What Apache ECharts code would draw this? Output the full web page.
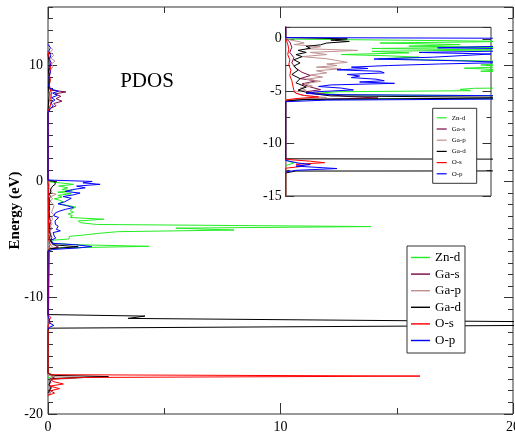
<!DOCTYPE html>
<html>
<head>
<meta charset="utf-8">
<script src="https://cdn.jsdelivr.net/npm/echarts@6/dist/echarts.min.js"></script>
<style>
html, body { margin: 0; padding: 0; background: #fff; }
#chart { width: 515px; height: 436px; }
</style>
</head>
<body>
<div id="chart"></div>
<script>
var names = ['Zn-d', 'Ga-s', 'Ga-p', 'Ga-d', 'O-s', 'O-p'];
var colors = ['#22ee22', '#7a0a45', '#c09090', '#000000', '#ff0000', '#0000ff'];

// each point: [energy (eV), PDOS]
var znD = [
    [-0.02, 0], [-0.13, 0.56], [-0.25, 1.1], [-0.4, 0.46], [-0.55, 0.85], [-0.7, 0.6], [-0.8, 1.05],
    [-0.92, 0.42], [-1.06, 1.0], [-1.2, 0.42], [-1.34, 0.6], [-1.5, 0.27], [-1.62, 0.5], [-1.75, 0.65],
    [-1.9, 0.45], [-2.05, 0.8], [-2.2, 1.2], [-2.35, 1.05], [-2.5, 0.95], [-2.65, 1.1], [-2.8, 0.87],
    [-2.95, 1.05], [-3.1, 0.95], [-3.25, 2.4], [-3.4, 1.3], [-3.55, 1.4], [-3.7, 2.1], [-3.88, 13.9],
    [-4.02, 5.5], [-4.18, 8.0], [-4.32, 3.0], [-4.48, 2.1], [-4.62, 1.5], [-4.72, 0.92], [-4.82, 0.85],
    [-4.95, 0.9], [-5.05, 0.25], [-5.2, 0.15], [-5.35, 0.3], [-5.45, 1.4], [-5.58, 4.35], [-5.72, 0.5],
    [-5.85, 0],
    [-11.6, 0], [-11.85, 0.04], [-12.1, 0],
    [-16.55, 0], [-16.72, 0.25], [-16.9, 0]
];
var gaS = [
    [8.1, 0], [7.85, 0.12], [7.7, 0.77], [7.52, 0.3], [7.32, 0.55], [7.12, 0.35], [6.9, 0.6],
    [6.7, 0.25], [6.5, 0.35], [6.3, 0.1], [6.1, 0.06], [5.9, 0],
    [0.05, 0], [-0.3, 0.02], [-0.8, 0.03], [-1.3, 0.02], [-1.8, 0.04], [-2.3, 0.03], [-2.8, 0.05],
    [-3.2, 0.08], [-3.5, 0.12], [-3.8, 0.07], [-4.0, 0.15], [-4.3, 0.08], [-4.6, 0.12], [-4.85, 0.17],
    [-5.05, 0.1], [-5.3, 0.2], [-5.5, 0.3], [-5.65, 0.45], [-5.8, 0.05], [-5.95, 0],
    [-16.6, 0], [-16.8, 0.3], [-17.0, 0.05], [-17.3, 0.12], [-17.5, 0.03], [-17.75, 0.15],
    [-18.0, 0.05], [-18.2, 0.1], [-18.4, 0]
];
var gaP = [
    [11.9, 0], [11.6, 0.06], [11.35, 0.2], [11.1, 0.1], [10.85, 0.25], [10.6, 0.12], [10.35, 0.3],
    [10.1, 0.15], [9.85, 0.22], [9.6, 0.08], [9.3, 0.12], [9.0, 0.05], [8.6, 0.1], [8.2, 0.04],
    [7.9, 0.12], [7.6, 0.08], [7.3, 0.14], [7.0, 0.06], [6.6, 0.1], [6.2, 0.03], [5.8, 0],
    [0.05, 0], [-0.1, 0.02], [-0.25, 0.06], [-0.4, 0.09], [-0.55, 0.04], [-0.75, 0.17], [-0.95, 0.1],
    [-1.1, 0.35], [-1.3, 0.12], [-1.5, 0.2], [-1.7, 0.08], [-1.9, 0.2], [-2.1, 0.26], [-2.25, 0.3],
    [-2.4, 0.2], [-2.55, 0.25], [-2.7, 0.15], [-2.85, 0.27], [-3.05, 0.15], [-3.25, 0.2], [-3.45, 0.12],
    [-3.65, 0.18], [-3.85, 0.1], [-4.05, 0.17], [-4.3, 0.09], [-4.5, 0.13], [-4.7, 0.07], [-4.9, 0.1],
    [-5.1, 0.04], [-5.4, 0.08], [-5.6, 0.2], [-5.8, 0],
    [-16.6, 0], [-16.78, 0.2], [-16.88, 1.5], [-17.05, 0.1], [-17.4, 0.05], [-17.9, 0.08], [-18.3, 0]
];
var gaD = [
    [11, 0], [10.5, 0.03], [10, 0.05], [9.5, 0.02], [9, 0.04], [8, 0.02], [7.5, 0.05], [7, 0.03], [6, 0],
    [0.12, 0], [0.0, 0.3], [-0.12, 0.22], [-0.25, 0.31], [-0.4, 0.2], [-0.57, 0.17], [-0.72, 0.1],
    [-0.9, 0.12], [-1.1, 0.06], [-1.3, 0.1], [-1.5, 0.05], [-1.7, 0.08], [-2.0, 0.04], [-2.3, 0.07],
    [-2.6, 0.04], [-3.0, 0.06], [-3.4, 0.03], [-3.8, 0.07], [-4.2, 0.05], [-4.6, 0.1], [-4.9, 0.06],
    [-5.2, 0.12], [-5.45, 0.22], [-5.62, 1.3], [-5.78, 0.1], [-5.95, 0],
    [-11.45, 0], [-11.58, 4.17], [-11.78, 3.44], [-12.25, 32], [-12.62, 0.05], [-12.8, 0],
    [-16.5, 0], [-16.68, 0.3], [-16.78, 2.6], [-16.95, 0.2], [-17.2, 0.1], [-17.45, 0.05],
    [-17.7, 0.12], [-18.0, 0.06], [-18.2, 0]
];
var oS = [
    [11.2, 0], [10.8, 0.04], [10.4, 0.08], [10.0, 0.1], [9.6, 0.12], [9.2, 0.05], [8.8, 0.1],
    [8.4, 0.06], [8.0, 0.08], [7.6, 0.15], [7.2, 0.12], [6.8, 0.14], [6.4, 0.08], [6.0, 0],
    [0.0, 0], [-0.5, 0.01], [-1.0, 0.015], [-1.5, 0.01], [-2.0, 0.02], [-2.5, 0.015], [-3.0, 0.025],
    [-3.5, 0.02], [-4.0, 0.03], [-4.5, 0.035], [-4.9, 0.04], [-5.2, 0.05], [-5.4, 0.09], [-5.55, 0.16],
    [-5.7, 0.05], [-5.85, 0],
    [-11.5, 0], [-11.68, 0.12], [-11.82, 0.19], [-11.97, 0.05], [-12.15, 0.09], [-12.35, 0],
    [-16.45, 0], [-16.62, 0.1], [-16.74, 16], [-16.86, 1.4], [-17.0, 0.15], [-17.2, 0.2],
    [-17.42, 0.66], [-17.6, 0.08], [-17.82, 0.5], [-18.0, 0.1], [-18.2, 0.28], [-18.4, 0]
];
var oP = [
    [11.8, 0], [11.5, 0.1], [11.2, 0.04], [10.8, 0.12], [10.5, 0.06], [10.2, 0.14], [9.8, 0.05],
    [9.4, 0.1], [9.0, 0.04], [8.6, 0.07], [8.2, 0.03], [7.95, 0.12], [7.75, 0.45], [7.6, 0.2],
    [7.4, 0.4], [7.2, 0.15], [7.0, 0.3], [6.75, 0.12], [6.5, 0.22], [6.2, 0.08], [5.9, 0],
    [0.12, 0], [0.0, 1.9], [-0.12, 1.5], [-0.25, 2.24], [-0.4, 1.23], [-0.55, 1.6], [-0.7, 1.05],
    [-0.86, 0.74], [-1.0, 1.38], [-1.15, 1.1], [-1.3, 0.65], [-1.45, 1.0], [-1.6, 0.86], [-1.75, 0.72],
    [-1.93, 0.43], [-2.08, 0.8], [-2.25, 1.1], [-2.4, 0.75], [-2.55, 0.5], [-2.7, 0.32], [-2.83, 0.4],
    [-2.96, 0.25], [-3.1, 0.46], [-3.25, 0.48], [-3.4, 0.3], [-3.55, 0.36], [-3.7, 0.32], [-3.85, 0.44],
    [-4.0, 0.48], [-4.12, 0.36], [-4.25, 0.53], [-4.4, 0.22], [-4.55, 0.16], [-4.7, 0.27], [-4.88, 0.33],
    [-5.05, 0.15], [-5.2, 0.1], [-5.32, 0.18], [-5.45, 1.2], [-5.6, 1.88], [-5.72, 1.3], [-5.85, 0.2],
    [-6.0, 0],
    [-11.6, 0], [-11.85, 0.06], [-12.0, 0.12], [-12.15, 0.05], [-12.38, 0.25], [-12.55, 0.05], [-12.7, 0]
];
var pdos = [znD, gaS, gaP, gaD, oS, oP];

var serif = '"Liberation Serif", "Times New Roman", serif';
var frame = '#333';

function toXY(arr) {
    return arr.map(function (p) { return [p[1], p[0]]; });
}

function legendItems() {
    return names.map(function (n, i) {
        return {name: n, itemStyle: {color: colors[i], borderWidth: 0, opacity: 1}};
    });
}

// y axis helper: labelled ticks or plain small ticks
function yAx(grid, pos, min, max, interval, len, labels, margin) {
    return {
        type: 'value', gridIndex: grid, position: pos, min: min, max: max, interval: interval,
        axisLine: {show: false, onZero: false},
        axisTick: {show: true, inside: true, length: len, lineStyle: {color: frame}},
        axisLabel: {show: labels, showMaxLabel: false, margin: margin, color: '#000',
            fontFamily: serif, fontSize: 14},
        splitLine: {show: false}
    };
}

var yAxes = [
    yAx(0, 'left', -20, 15, 10, 9, true, 5),
    yAx(0, 'left', -20, 15, 1, 5, false, 5),
    yAx(0, 'right', -20, 15, 10, 9, false, 5),
    yAx(0, 'right', -20, 15, 1, 5, false, 5),
    yAx(1, 'left', -15, 1.1, 5, 8.5, true, 4),
    yAx(1, 'left', -15, 1.1, 2.5, 4.5, false, 4),
    yAx(1, 'right', -15, 1.1, 5, 8.5, false, 4),
    yAx(1, 'right', -15, 1.1, 2.5, 4.5, false, 4)
];
yAxes[0].name = 'Energy (eV)';
yAxes[0].nameLocation = 'middle';
yAxes[0].nameGap = 25;
yAxes[0].nameMoveOverlap = false;
yAxes[0].nameTextStyle = {fontFamily: serif, fontSize: 15, fontWeight: 'bold', color: '#000'};

function xAx(grid, pos, min, max, labels, ticks) {
    return {
        type: 'value', gridIndex: grid, position: pos, min: min, max: max, interval: 10,
        axisLine: {show: false, onZero: false},
        axisTick: {show: ticks, inside: true, length: 11, lineStyle: {color: frame}},
        minorTick: {show: ticks, splitNumber: 2, length: 6, lineStyle: {color: frame}},
        axisLabel: {show: labels, margin: 6, color: '#000', fontFamily: serif, fontSize: 14},
        splitLine: {show: false}
    };
}

var series = [];
for (var i = 0; i < names.length; i++) {
    var base = {
        name: names[i], type: 'line', symbol: 'none', showSymbol: false, clip: true,
        lineStyle: {color: colors[i], width: 1}, itemStyle: {color: colors[i]},
        data: toXY(pdos[i])
    };
    series.push(Object.assign({}, base, {xAxisIndex: 0, yAxisIndex: 0}));
    series.push(Object.assign({}, base, {xAxisIndex: 2, yAxisIndex: 4}));
}

var chart = echarts.init(document.getElementById('chart'), null, {renderer: 'canvas'});
chart.setOption({
    animation: false,
    backgroundColor: '#fff',
    grid: [
        {left: 48, top: 7, right: 2, bottom: 22, show: true, borderColor: frame, borderWidth: 1,
            containLabel: false, outerBoundsMode: 'none'},
        {left: 285.7, top: 27.3, width: 205.3, height: 168.7, show: true, backgroundColor: '#fff',
            borderColor: frame, borderWidth: 1, containLabel: false, outerBoundsMode: 'none'}
    ],
    xAxis: [
        xAx(0, 'bottom', 0, 20, true, true),
        xAx(0, 'top', 0, 20, false, true),
        xAx(1, 'bottom', 0, 1, false, false)
    ],
    yAxis: yAxes,
    legend: [
        {data: legendItems(), orient: 'vertical', left: 407, top: 246, padding: [5, 4, 6, 4],
            icon: 'path://M0,0H20V1.5H0Z', itemWidth: 19, itemHeight: 14, itemGap: 3.6,
            backgroundColor: '#fff', borderColor: frame, borderWidth: 1, borderRadius: 0,
            textStyle: {fontFamily: serif, fontSize: 13, color: '#000'}},
        {data: legendItems(), orient: 'vertical', left: 432.7, top: 108.3, padding: [6, 11, 6, 4],
            icon: 'path://M0,0H10V1.2H0Z', itemWidth: 10, itemHeight: 8, itemGap: 4.2,
            backgroundColor: '#fff', borderColor: frame, borderWidth: 1, borderRadius: 0,
            textStyle: {fontFamily: serif, fontSize: 7, color: '#000'}}
    ],
    graphic: [
        {type: 'text', x: 147, y: 81, style: {text: 'PDOS', fontFamily: serif, fontSize: 21,
            fill: '#000', align: 'center', verticalAlign: 'middle'}}
    ],
    series: series
});
</script>
</body>
</html>
